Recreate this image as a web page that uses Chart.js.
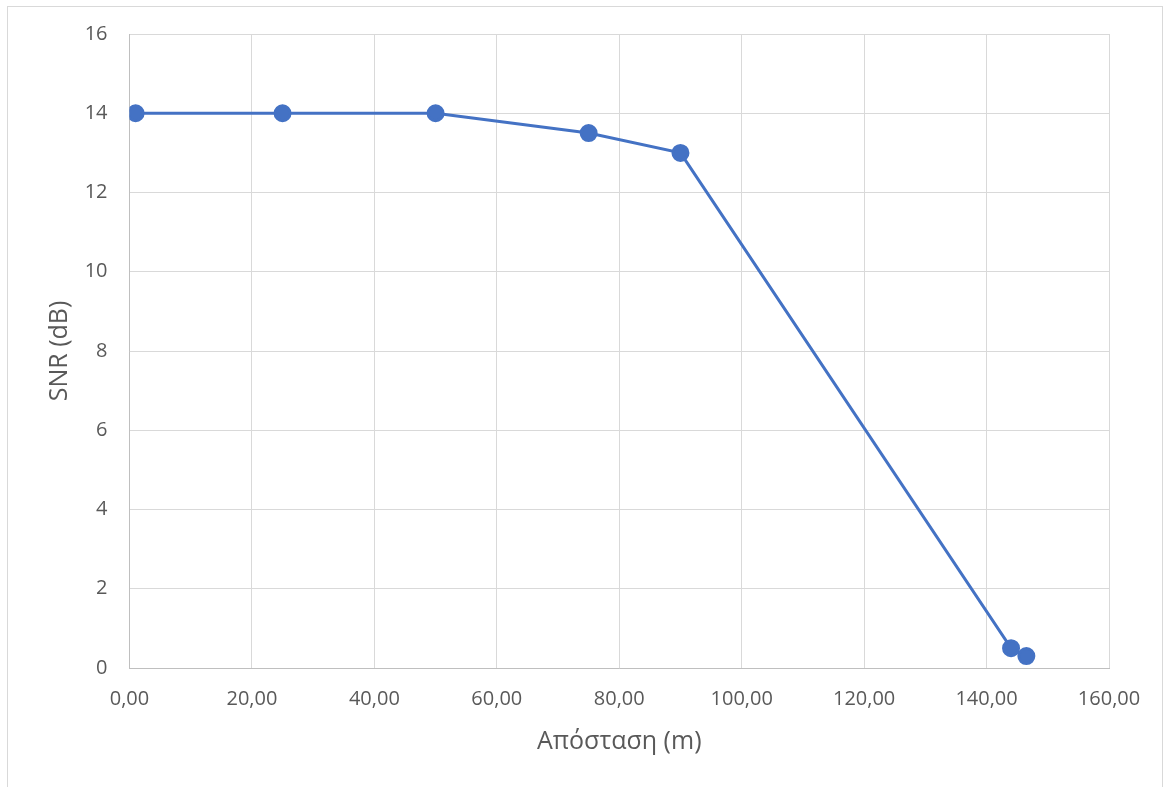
<!DOCTYPE html>
<html>
<head>
<meta charset="utf-8">
<script src="https://cdn.jsdelivr.net/npm/chart.js@4"></script>
<style>
  body { margin: 0; background: #fff; }
  #frame { position: absolute; left: 7px; top: 6px; width: 1154px; height: 800px; border: 1px solid #d9d9d9; }
  #wrap { position: absolute; left: 0; top: 0; width: 1168px; height: 787px; }
</style>
</head>
<body>
<div id="frame"></div>
<div id="wrap"><canvas id="snrChart" width="1168" height="787"></canvas></div>
<script>
// distance in metres and measured SNR
const distances = [1, 25, 50, 75, 90, 144, 146.5];
const snrValues = [14, 14, 14, 13.5, 13, 0.5, 0.3];
const xTitle = "Απόσταση (m)";
const yTitle = "SNR (dB)";

const textColor = "#595959";
const gridColor = "#d9d9d9";
const lineColor = "#4472c4";

document.addEventListener("DOMContentLoaded", function () {
  const ctx = document.getElementById("snrChart").getContext("2d");
  new Chart(ctx, {
    type: "scatter",
    data: {
      datasets: [
        {
          data: distances.map((d, i) => ({ x: d, y: snrValues[i] })),
          showLine: true,
          borderColor: lineColor,
          backgroundColor: lineColor,
          borderWidth: 3,
          pointRadius: 7.5,
          pointHoverRadius: 7.5,
        },
      ],
    },
    options: {
      responsive: false,
      animation: false,
      layout: { padding: { top: 34, right: 59, left: 0, bottom: 0 } },
      plugins: { legend: { display: false }, tooltip: { enabled: false } },
      scales: {
        x: {
          min: 0,
          max: 160,
          afterFit: (s) => { s.height = 119; },
          ticks: {
            stepSize: 20,
            color: textColor,
            padding: 19,
            font: { family: "Open Sans", size: 20 },
            callback: (v) => v.toFixed(2).replace(".", ","),
          },
          grid: { color: gridColor, drawTicks: false },
          border: { color: "#bfbfbf" },
          title: {
            display: true,
            text: xTitle,
            color: textColor,
            font: { family: "Open Sans", size: 25 },
            padding: { top: 0, bottom: 30 },
          },
        },
        y: {
          min: 0,
          max: 16,
          afterFit: (s) => { s.width = 129.5; },
          ticks: {
            stepSize: 2,
            color: textColor,
            padding: 22,
            font: { family: "Open Sans", size: 20 },
          },
          grid: { color: gridColor, drawTicks: false },
          border: { color: "#bfbfbf" },
          title: {
            display: true,
            text: yTitle,
            color: textColor,
            font: { family: "Open Sans", size: 25 },
            padding: { top: 45, bottom: 0 },
          },
        },
      },
    },
  });
});
</script>
</body>
</html>
